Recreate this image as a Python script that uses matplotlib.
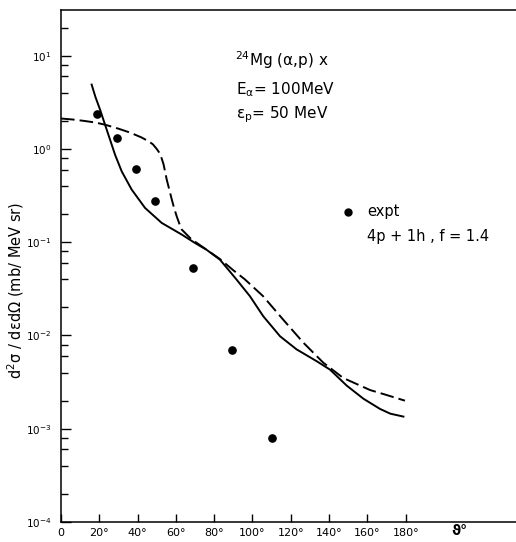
import numpy as np
import matplotlib
matplotlib.use('Agg')
import matplotlib.pyplot as plt
from matplotlib.ticker import LogLocator, NullFormatter, FixedLocator

########################### Data ##########################

theta_expt  = [19, 29, 39, 49, 69, 89.5, 110]                       # [deg]
sigma_expt  = [2.37, 1.31, 0.61, 0.274, 0.053, 7.0e-3, 8.0e-4]       # [mb/MeV sr]

theta_solid = [16.0, 18.0, 20.4, 23.0, 25.6, 28.2, 31.7, 36.9, 43.9, 52.6, 63.0,
               70.0, 76.0, 83.0, 88.0, 91.7, 98.7, 105.6, 114.4, 123.0, 133.5,
               140.5, 149.2, 157.9, 166.6, 172.0, 178.8]
sigma_solid = [4.9, 3.6, 2.64, 1.82, 1.26, 0.87, 0.575, 0.367, 0.233, 0.161, 0.121,
               0.098, 0.083, 0.065, 0.049, 0.0397, 0.0263, 0.0161, 0.0098, 0.0071, 0.0053,
               0.0043, 0.0029, 0.0021, 0.00163, 0.00145, 0.00135]

theta_dash  = [0.0, 6.0, 12.0, 18.0, 23.0, 30.0, 36.0, 42.0, 46.0, 48.0, 50.0, 51.2,
               52.5, 53.5, 54.3, 55.2, 56.5, 57.8, 59.0, 60.4, 61.7, 63.0, 68.0, 75.0,
               83.0, 90.0, 96.0, 105.6, 116.0, 126.5, 137.0, 147.4, 161.4, 170.0, 179.6]
sigma_dash  = [2.12, 2.07, 2.0, 1.92, 1.82, 1.65, 1.5, 1.33, 1.2, 1.12, 1.0, 0.92,
               0.8, 0.69, 0.58, 0.47, 0.37, 0.29, 0.235, 0.19, 0.16, 0.137, 0.108, 0.086,
               0.066, 0.050, 0.040, 0.0263, 0.0148, 0.0084, 0.0051, 0.0035, 0.0026, 0.0023, 0.0020]

xtick_pos    = [0, 20, 40, 60, 80, 100, 120, 140, 160, 180]
xtick_labels = ['0'] + [f'{t}°' for t in xtick_pos[1:]]
ytick_pos    = [1e-4, 1e-3, 1e-2, 1e-1, 1e0, 1e1]
ytick_labels = [r'$10^{-4}$', r'$10^{-3}$', r'$10^{-2}$', r'$10^{-1}$', r'$10^{0}$', r'$10^{1}$']

########################### Plot ###############################################

plt.rcParams['font.family'] = ['DejaVu Sans']
plt.rcParams['mathtext.default'] = 'regular'

fig = plt.figure(figsize=(5.16, 5.42), dpi=100)
ax = fig.add_axes([61/516, 20/542, 455/516, 512/542])

ax.plot(theta_solid, sigma_solid, '-', color='black', lw=1.4)
ax.plot(theta_dash, sigma_dash, '--', color='black', lw=1.4, dashes=(7, 2.6))
ax.plot(theta_expt, sigma_expt, 'o', color='black', ms=5.2)

ax.set_yscale('log')
ax.set_xlim(0, 237.6)
ax.set_ylim(1e-4, 10**1.49)

ax.set_xticks(xtick_pos)
ax.set_xticklabels(xtick_labels, fontsize=8)
ax.set_yticks(ytick_pos)
ax.set_yticklabels(ytick_labels, fontsize=7.5)
ax.yaxis.set_minor_locator(LogLocator(base=10, subs=(2, 4, 6, 8), numticks=20))
ax.yaxis.set_minor_formatter(NullFormatter())
ax.xaxis.set_minor_locator(FixedLocator([]))

ax.tick_params(axis='x', direction='in', length=6, width=1, pad=4)
ax.tick_params(axis='y', which='major', direction='in', length=7.5, width=1, pad=7)
ax.tick_params(axis='y', which='minor', direction='in', length=5, width=1)

ax.spines['right'].set_visible(False)
for s in ['left', 'top', 'bottom']:
    ax.spines[s].set_linewidth(1.1)

ax.set_ylabel('d$^2$σ / dεdΩ (mb/ MeV sr)', fontsize=10.5)
ax.yaxis.set_label_coords(-0.078, 0.453)

ax.text(208, -0.018, 'ϑ°', transform=ax.get_xaxis_transform(), fontsize=10,
        ha='center', va='center', fontweight='bold')

ax.text(0.382, 0.902, r'$^{24}$Mg ($\alpha$,p) x', transform=ax.transAxes, fontsize=11, va='center')
ax.text(0.385, 0.844, r'E$_{\alpha}$= 100MeV', transform=ax.transAxes, fontsize=11, va='center')
ax.text(0.385, 0.795, r'ε$_{p}$= 50 MeV', transform=ax.transAxes, fontsize=11, va='center')

ax.plot([0.630], [0.606], 'o', color='black', ms=5, transform=ax.transAxes)
ax.text(0.672, 0.606, 'expt', transform=ax.transAxes, fontsize=10.5, va='center')
ax.text(0.672, 0.557, '4p + 1h , f = 1.4', transform=ax.transAxes, fontsize=10.5, va='center')

plt.savefig('out.png', dpi=100)
